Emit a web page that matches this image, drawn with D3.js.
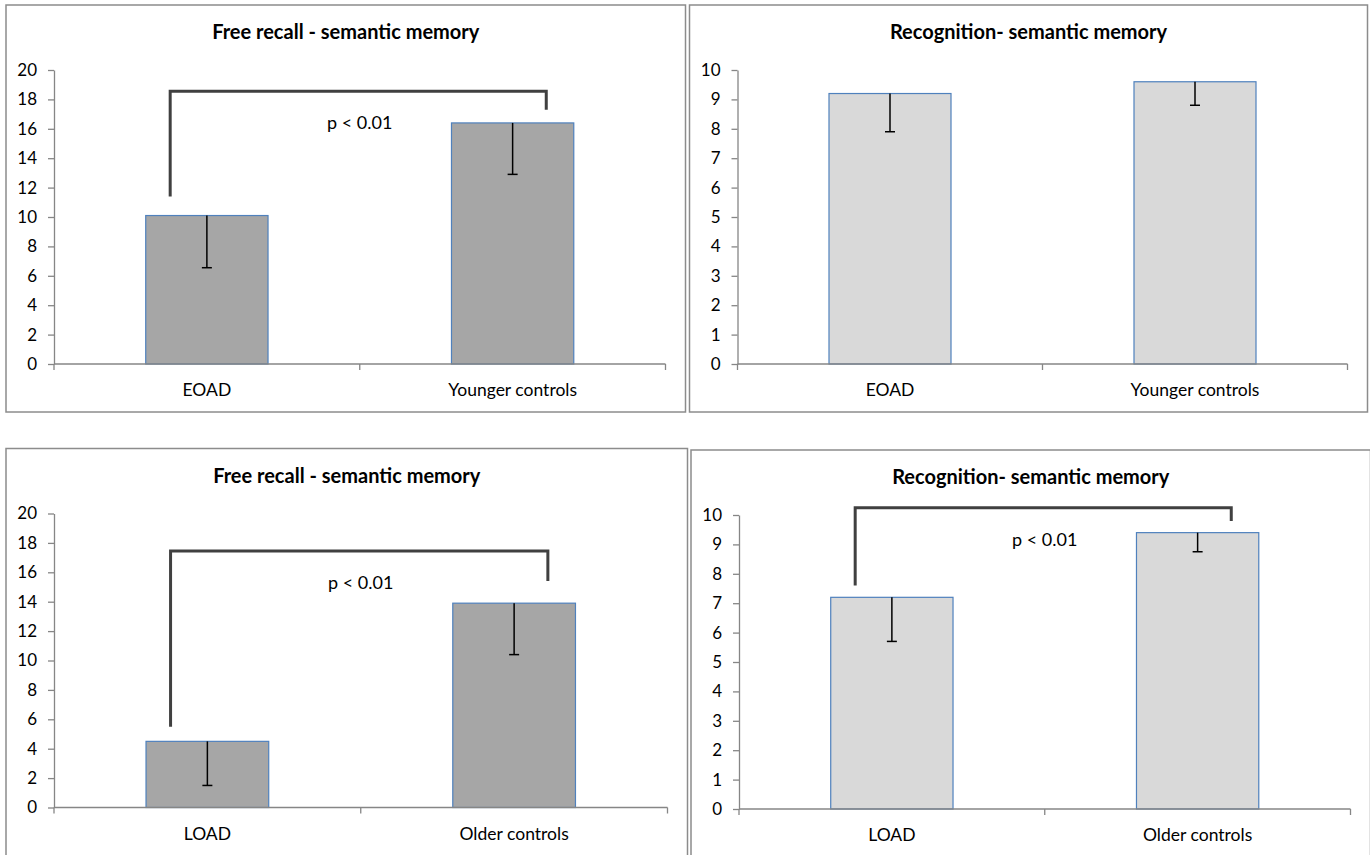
<!DOCTYPE html>
<html>
<head>
<meta charset="utf-8">
<script src="https://cdn.jsdelivr.net/npm/d3@7"></script>
<style>
  html, body { margin: 0; padding: 0; background: #fff; }
  svg { display: block; font-family: Lato, "Open Sans", sans-serif; }
</style>
</head>
<body>
<svg id="chart" width="1370" height="855"></svg>
<script>
// Group labels
const earlyGroups = ["EOAD", "Younger controls"];
const lateGroups = ["LOAD", "Older controls"];

// Group means and (downward) error-bar lengths
const recallEarlyMeans = [10.1, 16.4];
const recallEarlyErr = [3.55, 3.5];
const recogEarlyMeans = [9.2, 9.6];
const recogEarlyErr = [1.3, 0.8];
const recallLateMeans = [4.5, 13.9];
const recallLateErr = [3.0, 3.5];
const recogLateMeans = [7.2, 9.4];
const recogLateErr = [1.5, 0.65];

// Y-axis tick values
const recallTicks = [0, 2, 4, 6, 8, 10, 12, 14, 16, 18, 20];
const recogTicks = [0, 1, 2, 3, 4, 5, 6, 7, 8, 9, 10];

// Significance brackets in data units: [top level, left leg end, right leg end]
const recallEarlyBracket = [18.55, 11.4, 17.3];
const recallLateBracket = [17.45, 5.5, 15.4];
const recogLateBracket = [10.25, 7.6, 9.8];

const pLabel = "p < 0.01";
const recallTitle = "Free recall - semantic memory";
const recogTitle = "Recognition- semantic memory";

const svg = d3.select("#chart");
const AXIS = "#868686";

function drawPanel(cfg) {
  const g = svg.append("g");

  g.append("rect")
    .attr("x", cfg.x0).attr("y", cfg.y0)
    .attr("width", cfg.x1 - cfg.x0).attr("height", cfg.y1 - cfg.y0)
    .attr("fill", "#fff").attr("stroke", "#8c8c8c").attr("stroke-width", 1.5);

  const left = cfg.x0 + 48, right = cfg.x1 - 20;
  const top = cfg.y0 + 65, bottom = cfg.y0 + 359;

  const x = d3.scaleBand().domain(cfg.groups).range([left, right])
    .paddingInner(0.6).paddingOuter(0.3);
  const y = d3.scaleLinear().domain([0, d3.max(cfg.ticks)]).range([bottom, top]);

  // title
  g.append("text")
    .attr("x", (cfg.x0 + cfg.x1) / 2).attr("y", cfg.y0 + 34)
    .attr("text-anchor", "middle").attr("font-weight", 700).attr("font-size", 20)
    .attr("fill", "#000").text(cfg.title);

  // y axis
  const yAxis = d3.axisLeft(y).tickValues(cfg.ticks).tickSize(6).tickSizeOuter(0).tickPadding(11);
  const ya = g.append("g").attr("transform", `translate(${left},0)`).call(yAxis);
  ya.select(".domain").attr("stroke", AXIS).attr("stroke-width", 1.3);
  ya.selectAll(".tick line").attr("stroke", AXIS).attr("stroke-width", 1.3);
  ya.selectAll(".tick text").attr("font-size", 17).attr("fill", "#000")
    .attr("font-family", "Lato, 'Open Sans', sans-serif");

  // bars
  const data = cfg.groups.map((k, i) => ({ k, v: cfg.means[i], e: cfg.err[i] }));
  g.selectAll("rect.bar").data(data).join("rect")
    .attr("class", "bar")
    .attr("x", d => x(d.k)).attr("width", x.bandwidth())
    .attr("y", d => y(d.v)).attr("height", d => bottom - y(d.v))
    .attr("fill", cfg.fill).attr("stroke", "#4f81bd").attr("stroke-width", 1.2);

  // x axis line with category-boundary ticks
  g.append("line").attr("x1", left).attr("x2", right).attr("y1", bottom).attr("y2", bottom)
    .attr("stroke", AXIS).attr("stroke-width", 1.3);
  const bounds = d3.range(cfg.groups.length + 1).map(i => left + i * x.step());
  g.selectAll("line.xtick").data(bounds).join("line")
    .attr("class", "xtick")
    .attr("x1", d => d).attr("x2", d => d).attr("y1", bottom).attr("y2", bottom + 6)
    .attr("stroke", AXIS).attr("stroke-width", 1.3);

  // category labels
  g.selectAll("text.cat").data(cfg.groups).join("text")
    .attr("class", "cat")
    .attr("x", d => x(d) + x.bandwidth() / 2).attr("y", bottom + 32)
    .attr("text-anchor", "middle").attr("font-size", 17.5).attr("fill", "#000")
    .text(d => d);

  // error bars (minus direction)
  const cx = d => x(d.k) + x.bandwidth() / 2;
  g.selectAll("line.err").data(data).join("line")
    .attr("class", "err")
    .attr("x1", cx).attr("x2", cx)
    .attr("y1", d => y(d.v)).attr("y2", d => y(d.v - d.e))
    .attr("stroke", "#000").attr("stroke-width", 1.5);
  g.selectAll("line.cap").data(data).join("line")
    .attr("class", "cap")
    .attr("x1", d => cx(d) - 5).attr("x2", d => cx(d) + 5)
    .attr("y1", d => y(d.v - d.e)).attr("y2", d => y(d.v - d.e))
    .attr("stroke", "#000").attr("stroke-width", 1.5);

  // significance bracket
  if (cfg.bracket) {
    const [level, legL, legR] = cfg.bracket;
    const xl = x(cfg.groups[0]) + x.bandwidth() / 2 - 0.12 * x.step();
    const xr = x(cfg.groups[1]) + x.bandwidth() / 2 + 0.11 * x.step();
    g.append("path")
      .attr("d", `M${xl},${y(legL)}V${y(level)}H${xr}V${y(legR)}`)
      .attr("fill", "none").attr("stroke", "#404040").attr("stroke-width", 3);
    g.append("text")
      .attr("x", (left + right) / 2).attr("y", y(level) + 38)
      .attr("text-anchor", "middle").attr("font-size", 18).attr("fill", "#000")
      .text(pLabel);
  }
}

drawPanel({ x0: 6, y0: 5, x1: 685.5, y1: 412, groups: earlyGroups, means: recallEarlyMeans,
  err: recallEarlyErr, ticks: recallTicks, title: recallTitle, fill: "#a6a6a6", bracket: recallEarlyBracket });
drawPanel({ x0: 689.5, y0: 5, x1: 1367.5, y1: 412, groups: earlyGroups, means: recogEarlyMeans,
  err: recogEarlyErr, ticks: recogTicks, title: recogTitle, fill: "#d9d9d9", bracket: null });
drawPanel({ x0: 6, y0: 448.5, x1: 687.5, y1: 880, groups: lateGroups, means: recallLateMeans,
  err: recallLateErr, ticks: recallTicks, title: recallTitle, fill: "#a6a6a6", bracket: recallLateBracket });
drawPanel({ x0: 691, y0: 450, x1: 1370.5, y1: 880, groups: lateGroups, means: recogLateMeans,
  err: recogLateErr, ticks: recogTicks, title: recogTitle, fill: "#d9d9d9", bracket: recogLateBracket });
</script>
</body>
</html>
